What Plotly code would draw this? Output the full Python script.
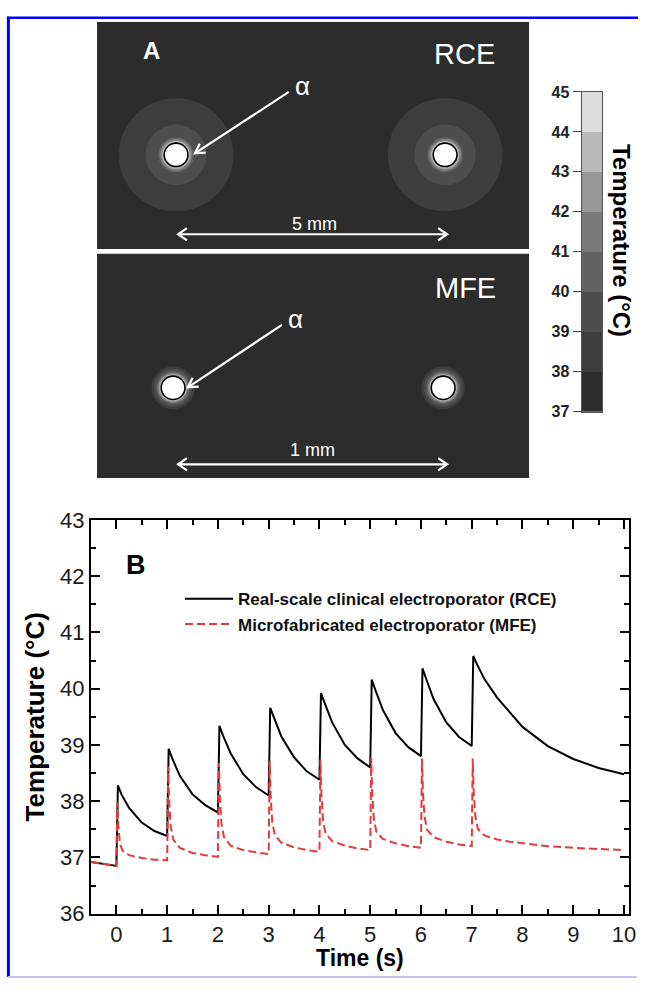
import math
import plotly.graph_objects as go

# ---------------- Panel B data ----------------
rce_time = [-0.5, 0.0, 0.03, 0.1, 0.25, 0.5, 0.75, 1.0,
            1.03, 1.1, 1.25, 1.5, 1.75, 2.0,
            2.03, 2.1, 2.25, 2.5, 2.75, 3.0,
            3.03, 3.1, 3.25, 3.5, 3.75, 4.0,
            4.03, 4.1, 4.25, 4.5, 4.75, 5.0,
            5.03, 5.1, 5.25, 5.5, 5.75, 6.0,
            6.03, 6.1, 6.25, 6.5, 6.75, 7.0,
            7.03, 7.1, 7.25, 7.5, 7.75, 8.0, 8.5, 9.0, 9.5, 10.0]
rce_temp = [36.92, 36.85, 38.28, 38.12, 37.88, 37.62, 37.47, 37.38,
            38.93, 38.76, 38.45, 38.12, 37.93, 37.80,
            39.34, 39.17, 38.85, 38.48, 38.25, 38.10,
            39.66, 39.49, 39.15, 38.78, 38.53, 38.38,
            39.92, 39.75, 39.40, 39.00, 38.76, 38.60,
            40.16, 39.98, 39.62, 39.21, 38.96, 38.80,
            40.36, 40.18, 39.81, 39.40, 39.14, 38.98,
            40.58, 40.44, 40.17, 39.84, 39.57, 39.32, 38.98, 38.75, 38.59, 38.48]

mfe_time = [-0.5, 0.0, 0.02, 0.04, 0.07, 0.12, 0.25, 0.5, 0.75, 1.0,
            1.02, 1.04, 1.07, 1.12, 1.25, 1.5, 1.75, 2.0,
            2.02, 2.04, 2.07, 2.12, 2.25, 2.5, 2.75, 3.0,
            3.02, 3.04, 3.07, 3.12, 3.25, 3.5, 3.75, 4.0,
            4.02, 4.04, 4.07, 4.12, 4.25, 4.5, 4.75, 5.0,
            5.02, 5.04, 5.07, 5.12, 5.25, 5.5, 5.75, 6.0,
            6.02, 6.04, 6.07, 6.12, 6.25, 6.5, 6.75, 7.0,
            7.02, 7.04, 7.07, 7.12, 7.25, 7.5, 7.75, 8.0, 8.5, 9.0, 9.5, 10.0]
mfe_temp = [36.92, 36.85, 37.98, 37.55, 37.25, 37.12, 37.04, 36.99, 36.96, 36.95,
            38.62, 38.00, 37.55, 37.32, 37.17, 37.08, 37.04, 37.01,
            38.68, 38.04, 37.60, 37.36, 37.21, 37.13, 37.09, 37.06,
            38.72, 38.08, 37.64, 37.40, 37.26, 37.18, 37.13, 37.10,
            38.74, 38.10, 37.67, 37.43, 37.29, 37.21, 37.16, 37.13,
            38.76, 38.12, 37.70, 37.46, 37.33, 37.25, 37.20, 37.17,
            38.76, 38.14, 37.73, 37.49, 37.36, 37.28, 37.23, 37.20,
            38.76, 38.14, 37.74, 37.51, 37.39, 37.32, 37.28, 37.25, 37.20, 37.17, 37.15, 37.13]

time_ticks = list(range(0, 11))
temp_ticks = list(range(36, 44))
series_names = ["Real-scale clinical electroporator (RCE)",
                "Microfabricated electroporator (MFE)"]

# ---------------- Panel A colour scale ----------------
cb_levels = [37, 38, 39, 40, 41, 42, 43, 44, 45]
cb_colors = ["#2c2c2c", "#3d3d3d", "#4d4d4d", "#626262",
             "#7a7a7a", "#979797", "#b9b9b9", "#dcdcdc"]

# temperature zones around each electrode (band lower bound, radius px)
rce_zone_temps = [38, 39, 40, 41, 42, 43]
rce_zone_radii = [58, 31, 18, 16.5, 15, 14]
mfe_zone_temps = [38, 39, 40, 41, 42, 43]
mfe_zone_radii = [22, 19.5, 17, 15.5, 14.5, 13.5]


def band_color(t):
    i = int(t - cb_levels[0])
    i = max(0, min(i, len(cb_colors) - 1))
    return cb_colors[i]


W, H = 645, 992
FONT = "Liberation Sans"

fig = go.Figure()

# Panel B traces
fig.add_trace(go.Scatter(x=rce_time, y=rce_temp, mode="lines", name=series_names[0],
                         legendgroup="rce",
                         line=dict(color="black", width=2), xaxis="x", yaxis="y"))
fig.add_trace(go.Scatter(x=mfe_time, y=mfe_temp, mode="lines", name=series_names[1],
                         legendgroup="mfe",
                         line=dict(color="#e23b3b", width=2, dash="8px,4px"),
                         xaxis="x", yaxis="y"))

# Colour bar as heat map
n = len(cb_colors)
cscale = []
for i, c in enumerate(cb_colors):
    cscale.append([i / n, c])
    cscale.append([(i + 1) / n, c])
mids = [(cb_levels[i] + cb_levels[i + 1]) / 2 for i in range(n)]
fig.add_trace(go.Heatmap(x=[0], y=mids, z=[[m] for m in mids], zmin=cb_levels[0], zmax=cb_levels[-1],
                         colorscale=cscale, showscale=False, xaxis="x3", yaxis="y3",
                         hoverinfo="skip", showlegend=False))

shapes = []
annotations = []

# ---------------- Panel A drawing (pixel units on x2/y2) ----------------
def rect(x0, y0, x1, y1, color):
    shapes.append(dict(type="rect", xref="x2", yref="y2", x0=x0, y0=y0, x1=x1, y1=y1,
                       fillcolor=color, line=dict(width=0)))


def circle(cx, cy, r, color, line_color=None, lw=0):
    shapes.append(dict(type="circle", xref="x2", yref="y2", x0=cx - r, x1=cx + r,
                       y0=cy - r, y1=cy + r, fillcolor=color,
                       line=dict(width=lw, color=line_color or color)))


def arrow_path(x0, y0, x1, y1, L=11, ang=30, both=False):
    p = f"M{x0},{y0} L{x1},{y1}"

    def head(xa, ya, xb, yb):
        dx, dy = xb - xa, yb - ya
        d = math.hypot(dx, dy)
        ux, uy = dx / d, dy / d
        pts = []
        for s in (1, -1):
            a = math.radians(ang) * s
            rx = ux * math.cos(a) - uy * math.sin(a)
            ry = ux * math.sin(a) + uy * math.cos(a)
            pts.append((xb - L * rx, yb - L * ry))
        return f" M{pts[0][0]:.2f},{pts[0][1]:.2f} L{xb},{yb} L{pts[1][0]:.2f},{pts[1][1]:.2f}"

    p += head(x0, y0, x1, y1)
    if both:
        p += head(x1, y1, x0, y0)
    shapes.append(dict(type="path", xref="x2", yref="y2", path=p,
                       line=dict(color="white", width=2.2)))


bg = band_color(37)
rect(98, 10, 535, 243, bg)
rect(98, 248, 535, 478, bg)

for cx, cy in [(178, 146.5), (450, 146.5)]:
    for t, r in zip(rce_zone_temps, rce_zone_radii):
        circle(cx, cy, r, band_color(t))
    circle(cx, cy, 12, "white", "black", 1.6)
for cx, cy in [(175, 385.5), (448, 385.5)]:
    for t, r in zip(mfe_zone_temps, mfe_zone_radii):
        circle(cx, cy, r, band_color(t))
    circle(cx, cy, 12, "white", "black", 1.6)

arrow_path(292, 82, 197, 145)
arrow_path(285, 321, 190, 385)
arrow_path(180, 228, 452, 228, L=11, ang=35, both=True)
arrow_path(180, 464, 452, 464, L=11, ang=35, both=True)


def txt2(x, y, s, size, bold=False):
    annotations.append(dict(x=x, y=y, xref="x2", yref="y2", text=s, showarrow=False,
                            font=dict(family=FONT, size=size, color="white",
                                      weight=700 if bold else 400),
                            xanchor="center", yanchor="middle"))


txt2(153, 40, "A", 24, bold=True)
txt2(470, 43, "RCE", 29)
txt2(471, 283, "MFE", 29)
txt2(306, 76, "α", 26)
txt2(299, 315, "α", 26)
txt2(318, 217, "5 mm", 18)
txt2(316, 449, "1 mm", 18)


def txtp(x, y, s, size, angle=0, bold=True):
    annotations.append(dict(x=x / W, y=1 - y / H, xref="paper", yref="paper", text=s,
                            textangle=angle, showarrow=False,
                            xanchor="center", yanchor="middle",
                            font=dict(family=FONT, size=size, color="black",
                                      weight=700 if bold else 400)))


# Colour bar title
txtp(629, 234, "Temperature (°C)", 24, angle=90)
# Panel B labels
txtp(137, 567, "B", 27)
txtp(364, 970, "Time (s)", 23)
txtp(35, 723, "Temperature (°C)", 26, angle=-90)

# Blue frame of the figure
shapes.append(dict(type="line", xref="paper", yref="paper", x0=7 / W, x1=1,
                   y0=1 - 6 / H, y1=1 - 6 / H, line=dict(color="#0000ff", width=2.5)))
shapes.append(dict(type="line", xref="paper", yref="paper", x0=8.5 / W, x1=8.5 / W,
                   y0=0.002, y1=1 - 5 / H, line=dict(color="#0000ff", width=3)))
shapes.append(dict(type="line", xref="paper", yref="paper", x0=8 / W, x1=0.998,
                   y0=1 - 990 / H, y1=1 - 990 / H, line=dict(color="#c0c0f4", width=2)))

tickfont = dict(family=FONT, size=22, color="#1a1a1a")
common = dict(showline=True, linewidth=2, linecolor="black", mirror="allticks",
              ticks="inside", ticklen=9, tickwidth=1.5, tickcolor="black",
              showgrid=False, zeroline=False, tickfont=tickfont)

fig.update_layout(
    width=W, height=H, margin=dict(l=0, r=0, t=0, b=0),
    paper_bgcolor="white", plot_bgcolor="white",
    xaxis=dict(domain=[92 / W, 636 / W], range=[-0.5, 10.1], tickvals=time_ticks,
               minor=dict(ticks="inside", ticklen=5, tickwidth=1.5, dtick=0.5, tick0=0,
                          tickcolor="black"),
               anchor="y", **common),
    yaxis=dict(domain=[1 - 925 / H, 1 - 521 / H], range=[36, 43], tickvals=temp_ticks,
               minor=dict(ticks="inside", ticklen=5, tickwidth=1.5, dtick=0.5, tick0=0,
                          tickcolor="black"),
               anchor="x", **common),
    xaxis2=dict(domain=[98 / W, 535 / W], range=[98, 535], visible=False, anchor="y2",
                fixedrange=True),
    yaxis2=dict(domain=[1 - 478 / H, 1 - 10 / H], range=[478, 10], visible=False, anchor="x2",
                fixedrange=True),
    xaxis3=dict(domain=[588 / W, 609 / W], range=[-0.5, 0.5], anchor="y3", showticklabels=False,
                ticks="", showline=True, linecolor="#555", linewidth=1, mirror=True,
                showgrid=False, zeroline=False),
    yaxis3=dict(domain=[1 - 410 / H, 1 - 82 / H], range=[37, 45], tickvals=cb_levels,
                anchor="x3", side="left", ticks="outside", ticklen=8, tickcolor="#444",
                showline=True, linecolor="#555", linewidth=1, mirror=True,
                showgrid=False, zeroline=False,
                tickfont=dict(family=FONT, size=16, color="#222", weight=700)),
    showlegend=True,
    legend=dict(x=182 / W, y=1 - 584 / H, xanchor="left", yanchor="top",
                bgcolor="rgba(0,0,0,0)", font=dict(family=FONT, size=17, color="#111", weight=700),
                itemwidth=48, tracegroupgap=4, traceorder="normal"),
    shapes=shapes, annotations=annotations,
)

fig.write_html(
    "out.html", config={"displayModeBar": False},
    post_script=(
        "document.body.style.margin='0px';"
        "document.body.style.overflow='hidden';"
        "document.documentElement.style.overflow='hidden';"
    ),
)
